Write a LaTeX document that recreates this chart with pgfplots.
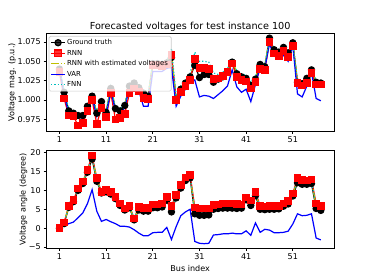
\documentclass[border=0pt]{standalone}
\usepackage{fontspec}
\setmainfont{DejaVu Sans}
\usepackage{pgfplots}
\usepackage{pgfplotstable}
\pgfplotsset{compat=1.18}
\definecolor{myel}{rgb}{0.75,0.75,0}
\definecolor{mcyan}{rgb}{0,0.75,0.75}

\pgfplotstableread{
bus gt rnn est var fnn
1 1.040 1.036 1.040 1.040 1.041
2 1.010 1.002 1.011 1.008 1.012
3 0.986 0.980 0.987 0.982 0.988
4 0.983 0.979 0.984 0.980 0.985
5 0.980 0.967 0.981 0.977 0.982
6 0.980 0.970 0.981 0.977 0.982
7 0.992 0.986 0.993 0.990 0.994
8 1.005 1.000 1.006 1.003 1.007
9 0.983 0.969 0.984 0.979 0.985
10 0.998 0.990 0.999 0.995 1.000
11 0.984 0.978 0.985 0.980 0.986
12 1.015 1.009 1.016 1.013 1.017
13 0.989 0.975 0.990 0.986 0.991
14 0.986 0.977 0.987 0.983 0.988
15 0.993 0.982 0.994 0.990 0.995
16 1.018 1.009 1.019 1.017 1.020
17 1.022 1.015 1.023 1.020 1.024
18 1.016 1.011 1.017 1.012 1.018
19 1.009 1.003 1.010 0.992 1.011
20 1.005 1.001 1.006 0.992 1.007
21 1.047 1.045 1.048 1.037 1.049
22 1.047 1.045 1.048 1.037 1.049
23 1.046 1.044 1.047 1.037 1.048
24 1.048 1.046 1.049 1.041 1.051
25 1.055 1.058 1.060 1.042 1.067
26 1.001 1.000 1.003 0.992 1.005
27 1.014 1.010 1.016 1.005 1.018
28 1.022 1.018 1.024 1.014 1.026
29 1.030 1.026 1.032 1.024 1.034
30 1.045 1.053 1.048 1.026 1.062
31 1.029 1.041 1.037 1.004 1.050
32 1.033 1.041 1.038 1.006 1.050
33 1.033 1.040 1.037 1.005 1.049
34 1.023 1.027 1.028 1.002 1.035
35 1.027 1.028 1.030 1.007 1.033
36 1.030 1.031 1.033 1.012 1.036
37 1.036 1.036 1.039 1.018 1.041
38 1.049 1.047 1.051 1.039 1.052
39 1.034 1.030 1.036 1.017 1.038
40 1.030 1.026 1.032 1.010 1.034
41 1.028 1.024 1.030 1.014 1.032
42 1.019 1.015 1.021 0.998 1.023
43 1.027 1.023 1.029 1.020 1.031
44 1.046 1.040 1.047 1.043 1.048
45 1.043 1.039 1.045 1.041 1.046
46 1.080 1.075 1.079 1.073 1.078
47 1.065 1.060 1.066 1.057 1.067
48 1.062 1.057 1.063 1.053 1.064
49 1.068 1.063 1.068 1.058 1.069
50 1.061 1.056 1.062 1.050 1.063
51 1.074 1.070 1.073 1.071 1.073
52 1.023 1.022 1.025 1.008 1.026
53 1.021 1.019 1.023 1.004 1.024
54 1.028 1.022 1.029 1.018 1.030
55 1.039 1.035 1.038 1.036 1.038
56 1.023 1.020 1.025 1.002 1.026
57 1.022 1.020 1.024 0.999 1.025
}\vmag

\pgfplotstableread{
bus gt rnn est var fnn
1 0 0 0 0 0
2 1.2 1.5 1.4 0.7 1.4
3 5.5 5.8 5.7 1.2 5.7
4 7.0 7.4 7.2 1.6 7.3
5 10.0 10.5 10.3 2.8 10.3
6 11.8 12.3 12.1 4.0 12.1
7 14.8 15.4 15.1 6.5 15.2
8 18.3 19.2 18.8 10.2 18.9
9 12.4 13.2 12.8 4.5 12.9
10 9.3 9.6 9.5 1.8 9.5
11 9.6 10.1 9.9 2.3 9.9
12 9.0 9.5 9.3 1.7 9.3
13 7.8 8.3 8.1 1.2 8.1
14 6.0 6.5 6.3 0.5 6.3
15 4.8 5.2 5.0 0.5 5.1
16 5.4 5.9 5.7 0.3 5.7
17 2.2 2.6 2.4 -0.4 2.5
18 4.8 5.6 5.2 -1.3 5.3
19 4.5 5.4 5.0 -2.0 5.1
20 4.5 5.4 5.0 -2.0 5.1
21 5.4 6.3 5.9 -1.2 6.0
22 5.4 6.3 5.9 -1.1 6.0
23 5.6 6.5 6.1 -1.1 6.2
24 7.4 8.2 7.8 0.2 7.9
25 4.3 5.9 5.2 -3.0 5.4
26 8.0 8.8 8.4 0.4 8.5
27 10.6 11.4 11.0 3.3 11.1
28 12.6 13.4 13.0 4.3 13.1
29 13.3 14.1 13.7 5.0 13.8
30 3.8 5.5 4.7 -3.5 4.9
31 3.4 5.2 4.4 -4.0 4.6
32 3.4 5.2 4.4 -4.1 4.6
33 3.5 5.2 4.4 -4.0 4.6
34 5.0 6.1 5.6 -1.8 5.7
35 5.2 6.3 5.8 -1.7 5.9
36 5.3 6.5 5.9 -1.5 6.0
37 5.3 6.5 5.9 -1.5 6.0
38 5.3 6.5 5.9 -1.3 6.0
39 5.2 6.4 5.8 -1.5 5.9
40 5.3 6.3 5.8 -1.5 5.9
41 7.5 8.1 7.8 -0.7 7.9
42 6.0 7.3 6.7 -1.9 6.8
43 8.6 9.5 9.1 1.4 9.2
44 5.0 5.9 5.5 -1.1 5.6
45 4.9 5.7 5.3 -0.3 5.4
46 5.0 5.9 5.5 -0.5 5.6
47 5.0 5.9 5.5 -1.2 5.6
48 5.1 5.9 5.5 -1.2 5.6
49 5.8 6.5 6.2 -1.1 6.3
50 6.4 7.2 6.8 -0.8 6.9
51 8.5 9.2 8.9 1.1 9.0
52 12.0 13.2 12.6 3.8 12.7
53 11.6 12.7 12.2 3.3 12.3
54 11.6 12.6 12.1 3.4 12.2
55 11.8 12.9 12.4 3.8 12.5
56 5.2 6.5 5.9 -2.6 6.0
57 4.7 5.9 5.3 -3.1 5.4
}\vang

\pgfplotsset{
  mpl/.style={
    scale only axis, width=357.1pt, height=121.3pt,
    xmin=-1.8, xmax=59.8,
    xtick={1,11,21,31,41,51},
    tick align=outside, xtick pos=bottom, ytick pos=left,
    major tick length=3.5pt,
    tick style={line width=0.8pt, black},
    axis line style={line width=0.8pt},
    tick label style={font=\fontsize{10}{12}\selectfont},
    label style={font=\fontsize{10}{12}\selectfont},
    ylabel style={yshift=-5pt},
    /pgf/number format/assume math mode=true,
    clip=true,
  },
  gtst/.style={black, line width=1.5pt, mark=*, mark size=3.8pt, mark options={solid, fill=black}},
  rnnst/.style={red, line width=1.5pt, mark=square*, mark size=4pt, mark options={solid, fill=red}},
  estst/.style={myel, line width=1.5pt, no marks, dash pattern=on 9.6pt off 2.4pt on 1.5pt off 2.4pt},
  varst/.style={blue, line width=1.5pt, no marks},
  fnnst/.style={mcyan, line width=1.5pt, no marks, dash pattern=on 1.5pt off 2.475pt},
}

\begin{document}
\begin{tikzpicture}
\path[use as bounding box] (0,0) rectangle (460.8pt,346.5pt);
\begin{axis}[mpl, at={(57.6pt,183.6pt)}, anchor=south west,
  ymin=0.9598, ymax=1.086,
  ytick={0.975,1.000,1.025,1.050,1.075},
  yticklabels={0.975,1.000,1.025,1.050,1.075},
  ylabel={Voltage mag. (p.u.)},
  title={Forecasted voltages for test instance 100},
  title style={font=\fontsize{12}{14}\selectfont, yshift=-7pt},
  legend style={at={(0.008,0.975)}, anchor=north west,
    font=\fontsize{8.6}{10}\selectfont, draw=black!20, fill=white,
    fill opacity=0.8, text opacity=1, rounded corners=2pt,
    inner sep=2pt, row sep=1.2pt, line width=0.8pt},
  legend cell align=left,
]
\addplot[gtst] table[x=bus,y=gt] {\vmag};
\addlegendentry{Ground truth}
\addplot[rnnst] table[x=bus,y=rnn] {\vmag};
\addlegendentry{RNN}
\addplot[estst] table[x=bus,y=est] {\vmag};
\addlegendentry{RNN with estimated voltages}
\addplot[varst] table[x=bus,y=var] {\vmag};
\addlegendentry{VAR}
\addplot[fnnst] table[x=bus,y=fnn] {\vmag};
\addlegendentry{FNN}
\end{axis}
\begin{axis}[mpl, at={(57.6pt,38.1pt)}, anchor=south west,
  ymin=-5.32, ymax=20.5,
  ytick={-5,0,5,10,15,20},
  yticklabels={−5,0,5,10,15,20},
  ylabel={Voltage angle (degree)},
  xlabel={Bus index},
]
\addplot[gtst] table[x=bus,y=gt] {\vang};
\addplot[rnnst] table[x=bus,y=rnn] {\vang};
\addplot[estst] table[x=bus,y=est] {\vang};
\addplot[varst] table[x=bus,y=var] {\vang};
\addplot[fnnst] table[x=bus,y=fnn] {\vang};
\end{axis}
\end{tikzpicture}
\end{document}
